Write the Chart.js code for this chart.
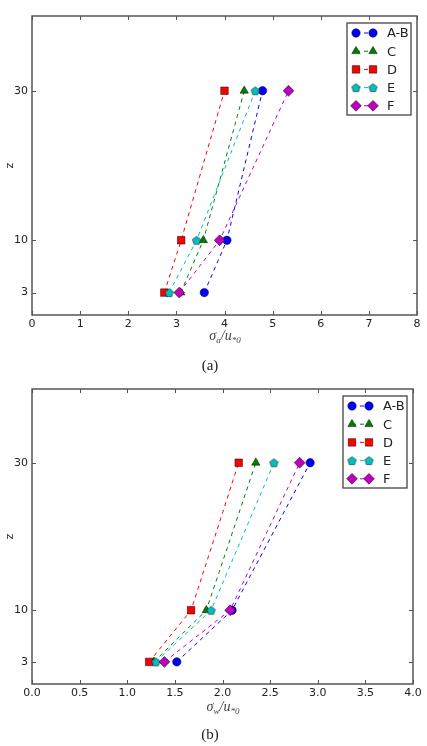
<!DOCTYPE html>
<html>
<head>
<meta charset="utf-8">
<script src="https://cdn.jsdelivr.net/npm/chart.js@4.4.0/dist/chart.umd.min.js"></script>
<style>
  body { margin: 0; background: #fff; }
  #wrap { position: relative; width: 427px; height: 746px; }
  canvas { position: absolute; left: 0; }
  .xlab {
    position: absolute; transform: translateX(-50%); white-space: nowrap;
    font-family: "Liberation Serif", serif; font-style: italic; font-size: 14px; color: #444;
  }
  .xlab span { font-size: 9px; position: relative; top: 3px; }
  .cap {
    position: absolute; transform: translateX(-50%);
    font-family: "Liberation Serif", serif; font-size: 15px; color: #222;
  }
</style>
</head>
<body>
<div id="wrap">
  <canvas id="chartA" width="427" height="332" style="top:0"></canvas>
  <div class="xlab" style="left:225px; top:328px">σ<span>a</span>/u<span>*0</span></div>
  <div class="cap" style="left:210px; top:357px">(a)</div>
  <canvas id="chartB" width="427" height="332" style="top:373px"></canvas>
  <div class="xlab" style="left:223px; top:699px">σ<span>w</span>/u<span>*0</span></div>
  <div class="cap" style="left:210px; top:726px">(b)</div>
</div>
<script>
// heights where the profiles were measured
const zLevels = [3, 10, 30];
const seriesNames = ["A-B", "C", "D", "E", "F"];

// panel (a): sigma_u / u*0 at z = 3, 10, 30
const uAB = [3.58, 4.05, 4.79];
const uC = [3.09, 3.56, 4.41];
const uD = [2.75, 3.1, 4.0];
const uE = [2.85, 3.42, 4.64];
const uF = [3.06, 3.9, 5.33];

// panel (b): sigma_w / u*0 at z = 3, 10, 30
const wAB = [1.52, 2.1, 2.92];
const wC = [1.28, 1.83, 2.35];
const wD = [1.23, 1.67, 2.17];
const wE = [1.3, 1.88, 2.54];
const wF = [1.39, 2.08, 2.81];

const xTicksA = [0, 1, 2, 3, 4, 5, 6, 7, 8];
const xTicksB = [0, 0.5, 1, 1.5, 2, 2.5, 3, 3.5, 4];

const colors = ["#0000ff", "#008000", "#ff0000", "#00bfbf", "#bf00bf"];

// Chart.js has no pentagon, so build one as an image point style
function makePentagon(color, r) {
  const c = document.createElement("canvas");
  const s = Math.ceil(r * 2 + 2);
  c.width = s;
  c.height = s;
  const g = c.getContext("2d");
  g.beginPath();
  for (let i = 0; i < 5; i++) {
    const a = -Math.PI / 2 + (i * 2 * Math.PI) / 5;
    const px = s / 2 + r * Math.cos(a);
    const py = s / 2 + 0.5 + r * Math.sin(a);
    if (i === 0) g.moveTo(px, py);
    else g.lineTo(px, py);
  }
  g.closePath();
  g.fillStyle = color;
  g.fill();
  g.strokeStyle = "#000";
  g.lineWidth = 0.5;
  g.stroke();
  return c;
}

const pointStyles = ["circle", "triangle", "rect", makePentagon(colors[3], 4.4), "rectRot"];
const pointSizes = [4.2, 4.8, 5.3, 4.4, 5.4];

function makeDatasets(seriesValues) {
  return seriesValues.map((xs, i) => ({
    label: seriesNames[i],
    data: zLevels.map((z, k) => ({ x: xs[k], y: z })),
    showLine: true,
    borderColor: colors[i],
    backgroundColor: colors[i],
    borderWidth: 1,
    borderDash: [4, 4],
    pointStyle: pointStyles[i],
    pointRadius: pointSizes[i],
    pointHoverRadius: pointSizes[i],
    pointBorderColor: "#000",
    pointBorderWidth: 0.5,
    order: seriesNames.length - i,
  }));
}

// box frame, inward ticks and a matplotlib-like legend
const framePlugin = {
  id: "frame",
  afterDraw(chart) {
    const ctx = chart.ctx;
    const a = chart.chartArea;
    const x = chart.scales.x;
    const y = chart.scales.y;
    ctx.save();
    ctx.strokeStyle = "#555";
    ctx.lineWidth = 1;
    ctx.beginPath();
    x.ticks.forEach((t) => {
      const px = Math.round(x.getPixelForValue(t.value)) + 0.5;
      ctx.moveTo(px, a.bottom);
      ctx.lineTo(px, a.bottom - 4);
      ctx.moveTo(px, a.top);
      ctx.lineTo(px, a.top + 4);
    });
    y.ticks.forEach((t) => {
      const py = Math.round(y.getPixelForValue(t.value)) + 0.5;
      ctx.moveTo(a.left, py);
      ctx.lineTo(a.left + 4, py);
      ctx.moveTo(a.right, py);
      ctx.lineTo(a.right - 4, py);
    });
    ctx.stroke();
    ctx.lineWidth = 1.5;
    ctx.strokeStyle = "#555";
    ctx.strokeRect(a.left, a.top, a.width, a.height);

    // legend
    const w = 64;
    const h = 92;
    const lx = a.right - 6 - w;
    const ly = a.top + 7;
    ctx.fillStyle = "#fff";
    ctx.fillRect(lx, ly, w, h);
    ctx.lineWidth = 1.3;
    ctx.strokeStyle = "#444";
    ctx.strokeRect(lx, ly, w, h);
    ctx.font = "13px 'DejaVu Sans', sans-serif";
    ctx.textBaseline = "middle";
    chart.data.datasets.forEach((ds, i) => {
      const ry = ly + 10 + i * 18.2;
      ctx.save();
      ctx.strokeStyle = ds.borderColor;
      ctx.lineWidth = 1;
      ctx.setLineDash([4, 4]);
      ctx.beginPath();
      ctx.moveTo(lx + 9, ry);
      ctx.lineTo(lx + 26, ry);
      ctx.stroke();
      ctx.restore();
      [lx + 9, lx + 26].forEach((mx) => {
        ctx.fillStyle = ds.backgroundColor;
        ctx.strokeStyle = "#000";
        ctx.lineWidth = 0.5;
        if (Chart.helpers && Chart.helpers.drawPoint) {
          Chart.helpers.drawPoint(ctx, {
            pointStyle: ds.pointStyle,
            radius: ds.pointRadius,
            rotation: 0,
            borderWidth: 0.5,
          }, mx, ry);
        } else {
          ctx.beginPath();
          ctx.arc(mx, ry, 4, 0, 2 * Math.PI);
          ctx.fill();
        }
      });
      ctx.fillStyle = "#222";
      ctx.fillText(ds.label, lx + 40, ry + 1);
    });
    ctx.restore();
  },
};

function buildChart(canvasId, seriesValues, xMax, xTicks, decimals, pad) {
  return new Chart(document.getElementById(canvasId), {
    type: "scatter",
    data: { datasets: makeDatasets(seriesValues) },
    options: {
      responsive: false,
      animation: false,
      events: [],
      layout: { padding: pad },
      plugins: {
        legend: { display: false },
        tooltip: { enabled: false },
      },
      scales: {
        x: {
          type: "linear",
          min: 0,
          max: xMax,
          afterBuildTicks: (scale) => {
            scale.ticks = xTicks.map((v) => ({ value: v }));
          },
          afterFit: (scale) => {
            scale.height = 14;
          },
          grid: { display: false, drawTicks: false },
          border: { display: false },
          ticks: {
            padding: 3,
            color: "#222",
            maxRotation: 0,
            font: { family: "'DejaVu Sans', sans-serif", size: 11 },
            callback: (v) => Number(v).toFixed(decimals),
          },
        },
        y: {
          type: "linear",
          min: 0,
          max: 40,
          afterBuildTicks: (scale) => {
            scale.ticks = zLevels.map((v) => ({ value: v }));
          },
          afterFit: (scale) => {
            scale.width = 32;
          },
          grid: { display: false, drawTicks: false },
          border: { display: false },
          title: {
            display: true,
            text: "z",
            color: "#222",
            padding: { top: 4, bottom: 0 },
            font: { family: "'DejaVu Sans', sans-serif", size: 11 },
          },
          ticks: {
            padding: 4,
            color: "#222",
            font: { family: "'DejaVu Sans', sans-serif", size: 11 },
          },
        },
      },
    },
    plugins: [framePlugin],
  });
}

buildChart("chartA", [uAB, uC, uD, uE, uF], 8, xTicksA, 0,
  { left: 0, top: 16, right: 10, bottom: 3 });
buildChart("chartB", [wAB, wC, wD, wE, wF], 4, xTicksB, 1,
  { left: 0, top: 16, right: 14, bottom: 7 });
</script>
</body>
</html>
